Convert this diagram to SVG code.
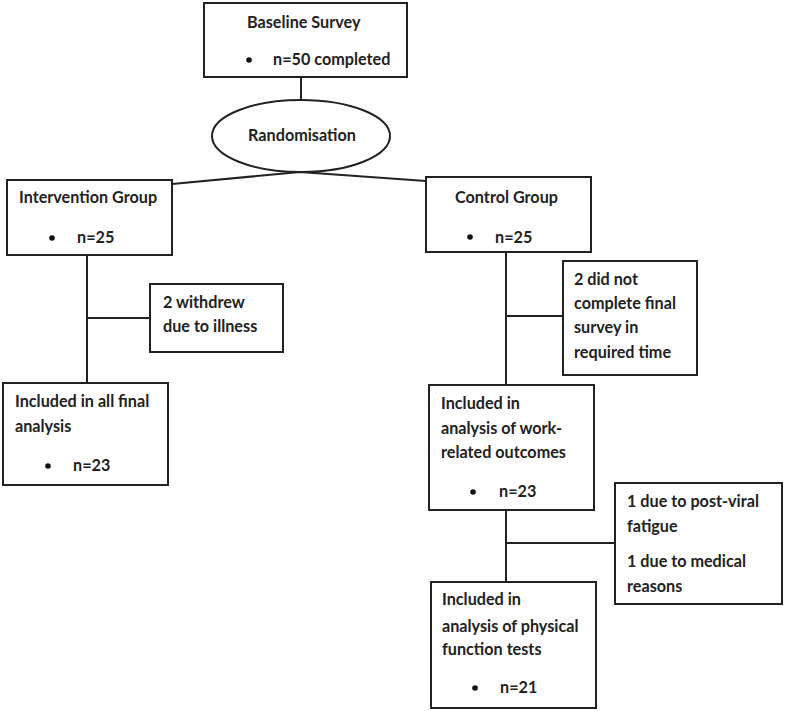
<svg xmlns="http://www.w3.org/2000/svg" width="785" height="711" viewBox="0 0 785 711">
<style>
.box{fill:#fff;stroke:#222;stroke-width:2}
.ln{fill:none;stroke:#222;stroke-width:2}
text{font-family:Lato,"Open Sans","Liberation Sans",sans-serif;font-weight:bold;font-size:16.2px;fill:#222}
.dot{fill:#111}
</style>
<rect width="785" height="711" fill="#fff"/>
<g id="connectors">
<line class="ln" x1="301" y1="77" x2="301" y2="100"/>
<polyline class="ln" points="172,184 300,172 426,181"/>
<line class="ln" x1="87" y1="255" x2="87" y2="383"/>
<line class="ln" x1="87" y1="318" x2="150" y2="318"/>
<line class="ln" x1="506" y1="252" x2="506" y2="385"/>
<line class="ln" x1="506" y1="316" x2="563" y2="316"/>
<line class="ln" x1="506" y1="510" x2="506" y2="582"/>
<line class="ln" x1="506" y1="543" x2="615" y2="543"/>
</g>
<g id="baseline">
<rect class="box" x="204" y="3" width="203" height="74"/>
<text x="247" y="28">Baseline Survey</text>
<circle class="dot" cx="249" cy="60" r="2.8"/>
<text x="273" y="65">n=50 completed</text>
</g>
<g id="randomisation">
<ellipse class="box" cx="301" cy="136" rx="89" ry="36"/>
<text x="302" y="141" text-anchor="middle">Randomisation</text>
</g>
<g id="intervention">
<rect class="box" x="7" y="180" width="165" height="75"/>
<text x="19" y="203">Intervention Group</text>
<circle class="dot" cx="52" cy="238" r="2.8"/>
<text x="77" y="243">n=25</text>
</g>
<g id="withdrew">
<rect class="box" x="150" y="284" width="133" height="68"/>
<text x="163" y="308">2 withdrew</text>
<text x="163" y="332">due to illness</text>
</g>
<g id="included-all">
<rect class="box" x="3" y="383" width="165" height="102"/>
<text x="15" y="407">Included in all final</text>
<text x="15" y="432">analysis</text>
<circle class="dot" cx="48" cy="466" r="2.8"/>
<text x="73" y="471">n=23</text>
</g>
<g id="control">
<rect class="box" x="426" y="177" width="165" height="75"/>
<text x="455" y="203">Control Group</text>
<circle class="dot" cx="470" cy="237" r="2.8"/>
<text x="495" y="243">n=25</text>
</g>
<g id="not-complete">
<rect class="box" x="563" y="261" width="134" height="114"/>
<text x="574" y="285">2 did not</text>
<text x="574" y="309">complete final</text>
<text x="574" y="333">survey in</text>
<text x="574" y="358">required time</text>
</g>
<g id="included-work">
<rect class="box" x="429" y="385" width="165" height="125"/>
<text x="441" y="409">Included in</text>
<text x="441" y="434">analysis of work-</text>
<text x="441" y="458">related outcomes</text>
<circle class="dot" cx="473" cy="492" r="2.8"/>
<text x="499" y="497">n=23</text>
</g>
<g id="reasons">
<rect class="box" x="615" y="483" width="167" height="121"/>
<text x="627" y="507">1 due to post-viral</text>
<text x="627" y="532">fatigue</text>
<text x="627" y="567">1 due to medical</text>
<text x="627" y="592">reasons</text>
</g>
<g id="included-physical">
<rect class="box" x="431" y="582" width="165" height="126"/>
<text x="442" y="605">Included in</text>
<text x="442" y="632">analysis of physical</text>
<text x="442" y="655">function tests</text>
<circle class="dot" cx="475" cy="688" r="2.8"/>
<text x="500" y="693">n=21</text>
</g>
</svg>
